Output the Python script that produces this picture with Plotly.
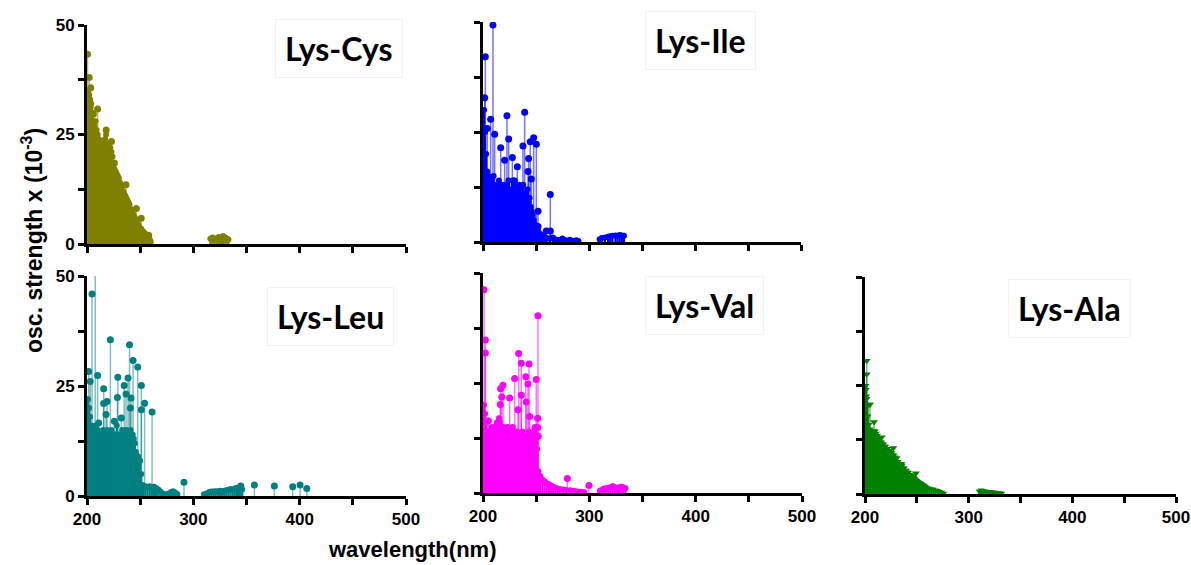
import plotly.graph_objects as go

# ---------------- data (wavelength in nm, oscillator strength x 1e-3) ----------------
# Lys-Cys
cys_body_wl = [201, 202, 203, 204, 205, 206, 207, 208, 209, 210, 211, 212, 213, 214, 215, 216, 217, 218, 219, 220,
               221, 222, 223, 224, 225, 226, 227, 228, 229, 230, 231, 232, 233, 234, 235, 236, 237, 238, 239, 240,
               241, 242, 243, 244, 245, 246, 247, 248, 249, 250, 251, 252, 253, 254, 255, 256, 257, 258, 259, 260,
               316, 318, 320, 322, 324, 326, 328, 330, 332, 333]
cys_body_f = [35, 34, 33, 32, 30, 28, 27, 28, 26, 25, 24, 23, 22, 22, 21, 23, 24, 25, 23, 22,
              21, 22, 21, 20, 18, 17, 16.5, 16, 15.5, 15, 14, 13.5, 13, 12, 11.5, 11, 10.5, 10, 9.5, 9,
              8, 7.5, 7, 6.5, 6, 5.5, 5, 4.5, 4, 3.5, 3.5, 3, 2.8, 2.5, 2.3, 2, 1.8, 1.5, 1.0, 0.5,
              1.2, 1.5, 1.0, 1.3, 1.6, 1.2, 1.8, 1.5, 1.2, 1.0]
cys_peak_wl = [200.5, 202, 203.5, 203, 206, 210, 214, 218, 223, 225.7, 236.7, 246.4, 251, 258]
cys_peak_f = [43.3, 38, 35.7, 31.3, 29.6, 30.8, 23.4, 26, 23.4, 18.5, 13.5, 8.1, 5.9, 2.0]

# Lys-Ile
ile_body_wl = [201, 202, 203, 204, 205, 206, 207, 208, 209, 210, 211, 212, 213, 214, 215, 216, 217, 218, 219, 220,
               221, 222, 223, 224, 225, 226, 227, 228, 229, 230, 231, 232, 233, 234, 235, 236, 237, 238, 239, 240,
               241, 242, 243, 244, 245, 246, 247, 248, 249, 250, 251, 252, 253, 254, 255, 256, 257, 258,
               260, 263, 266, 268, 272, 275, 278, 282, 285, 288, 290,
               310, 312, 315, 318, 320, 322, 325, 327, 329, 331, 333]
ile_body_f = [30, 25, 20, 16, 15, 14, 12, 14, 13, 15, 12, 11, 13, 12, 14, 11, 13, 12, 10, 13,
              12, 11, 13, 14, 12, 10, 12, 11, 13, 14, 12, 11, 12, 13, 10, 12, 11, 13, 11, 10,
              11, 12, 9, 10, 8, 7, 6, 5, 4, 3.5, 3, 2.5, 2, 1.8, 1.5, 1.3, 1.2, 1.0,
              0.9, 0.8, 1.0, 0.6, 0.5, 0.8, 0.4, 0.5, 0.3, 0.4, 0.2,
              0.6, 0.9, 1.0, 1.2, 1.3, 1.4, 1.5, 1.4, 1.6, 1.5, 1.4]
ile_peak_wl = [201.6, 202.2, 204, 207.2, 209.4, 211, 216.7, 220.4, 222.6, 224.2, 227.7, 228.6, 232.4, 237.7,
               239.3, 242.5, 243, 244.6, 245.6, 247.8, 250.3, 251.9, 251.9, 259.7, 263.5, 263.5]
ile_peak_f = [32.8, 42.1, 25.8, 27.9, 49.3, 24.5, 21.4, 18.6, 28.7, 23.4, 19.2, 13.9, 17.1, 21.8,
              29.5, 16, 19, 22.8, 14.3, 23.7, 22.2, 7, 3.5, 2.5, 10.8, 2.5]

# Lys-Leu
leu_body_wl = [201, 202, 203, 204, 205, 206, 207, 208, 209, 210, 211, 212, 213, 214, 215, 216, 217, 218, 219, 220,
               221, 222, 223, 224, 225, 226, 227, 228, 229, 230, 231, 232, 233, 234, 235, 236, 237, 238, 239, 240,
               241, 242, 243, 244, 245, 246, 247, 248, 249, 250, 251, 252,
               253, 255, 257, 259, 261, 263, 265, 267, 269, 271, 273, 276, 279, 281, 283, 285,
               310, 313, 315, 317, 319, 321, 323, 325, 327, 329, 331, 333, 335, 337, 339, 341, 343, 345, 346]
leu_body_f = [22, 20, 18, 16, 15, 15, 13, 16, 14, 15, 13, 12, 14, 13, 15, 12, 14, 13, 15, 12,
              14, 13, 15, 12, 14, 13, 14, 16, 14, 12, 14, 13, 15, 12, 14, 13, 15, 12, 14, 13,
              15, 12, 14, 13, 12, 10, 9, 9, 8, 8, 5, 2.5,
              2.3, 2.2, 2.0, 2.2, 2.0, 2.1, 1.8, 1.5, 1.0, 0.6, 0.4, 0.5, 0.9, 1.1, 0.8, 0.4,
              0.4, 0.6, 0.9, 1.0, 1.0, 1.1, 1.0, 1.2, 1.1, 1.2, 1.3, 1.4, 1.6, 1.5, 1.7, 1.9, 1.8, 2.0, 1.5]
leu_peak_wl = [201.6, 203, 204.7, 207.8, 210, 211, 215.7, 215.7, 217.9, 218.8, 222, 225.7, 228.6, 229, 232.3,
               235, 236.7, 238.6, 240, 240.8, 241.4, 243.3, 247.7, 251.1, 251.1, 254.2, 261.2, 291.2,
               344.6, 357.4, 376.2, 393.5, 400.4, 406.7]
leu_peak_f = [28.3, 26, 45.9, 56, 27.4, 16.6, 24.4, 21, 18.5, 21.5, 35.5, 17, 22.4, 27, 17.7,
              25.1, 23.2, 26.8, 34.4, 20, 22.3, 30.8, 29.3, 25.1, 19.6, 21.1, 19.1, 3.1,
              2.3, 2.5, 2.3, 2.1, 2.5, 1.7]

# Lys-Val
val_body_wl = [201, 202, 203, 204, 205, 206, 207, 208, 209, 210, 211, 212, 213, 214, 215, 216, 217, 218, 219, 220,
               221, 222, 223, 224, 225, 226, 227, 228, 229, 230, 231, 232, 233, 234, 235, 236, 237, 238, 239, 240,
               241, 242, 243, 244, 245, 246, 247, 248, 249, 250, 251, 252, 253,
               254, 256, 258, 260, 262, 264, 266, 268, 270, 272, 275, 278, 282, 285, 288, 292, 295,
               310, 312, 314, 316, 318, 320, 322, 324, 326, 328, 330, 332, 334]
val_body_f = [20, 18, 16, 14, 14, 12, 13, 15, 12, 14, 15, 13, 16, 14, 17, 16, 15, 13, 15, 14,
              12, 14, 15, 13, 12, 14, 12, 15, 13, 14, 12, 14, 13, 11, 13, 12, 14, 11, 13, 12,
              13, 11, 14, 12, 13, 11, 12, 14, 12, 13, 10, 5, 4,
              3.8, 3.0, 2.6, 2.2, 2.0, 1.7, 1.4, 1.2, 1.0, 0.9, 0.8, 0.7, 0.6, 0.5, 0.4, 0.3, 0.2,
              0.5, 0.8, 1.0, 1.1, 1.2, 1.3, 1.6, 1.3, 1.2, 1.3, 1.4, 1.3, 1.1]
val_peak_wl = [201, 202.2, 202.2, 205, 216.3, 216.6, 217.7, 218.8, 225.1, 229.8, 232.9, 233.6, 236, 236,
               240.2, 240.7, 242.3, 243.3, 243.9, 248.9, 250.1, 251.4, 251.4, 251.7, 252, 279.3, 299.7]
val_peak_f = [46.2, 34.8, 31.8, 16.4, 20.1, 23.7, 21.8, 24.5, 21.6, 26, 18.9, 31.7, 29.5, 22.2,
              26.4, 20.7, 24.8, 29.3, 17.4, 14.9, 25.8, 17, 14.9, 40.3, 12.9, 3.3, 1.7]

# Lys-Ala
ala_body_wl = [201, 202, 203, 204, 205, 206, 207, 208, 209, 210, 211, 212, 213, 214, 215, 216, 217, 218, 219, 220,
               221, 222, 223, 224, 225, 226, 227, 228, 229, 230, 231, 232, 233, 234, 235, 236, 237, 238, 239, 240,
               241, 242, 243, 244, 245, 246, 247, 248, 249, 250, 251, 252, 253, 254, 255, 256, 257, 258, 259, 260,
               262, 264, 266, 268, 270, 272, 274, 276,
               310, 312, 314, 316, 318, 320, 322, 324, 326, 328, 330, 332]
ala_body_f = [25, 22, 18, 16, 15, 14.5, 14.5, 14.5, 14.5, 14.5, 14, 13.5, 13, 12.5, 12, 12, 11.5, 11.5, 11, 11,
              10.5, 10.5, 10, 10, 9.5, 9.5, 9, 9, 8.5, 8, 7.5, 7.5, 7, 7, 6.5, 6.5, 6, 6, 5.5, 5.5,
              5, 5, 4.5, 4.3, 4.2, 4, 3.8, 3.5, 3.3, 3.1, 2.9, 2.7, 2.6, 2.4, 2.3, 2.1, 2.0, 1.8, 1.6, 1.4,
              1.3, 1.2, 1.1, 0.9, 0.8, 0.6, 0.4, 0.2,
              0.7, 0.9, 0.8, 0.7, 0.6, 0.6, 0.5, 0.4, 0.4, 0.3, 0.3, 0.2]
ala_peak_wl = [200.8, 201, 201.6, 201.6, 203.2, 204.8, 208.7, 216.1, 227.3, 230.5, 235.3, 249]
ala_peak_f = [24, 22.5, 30.7, 27.6, 20.6, 20.6, 16.6, 13.1, 10.6, 8.3, 6.9, 4.8]

panel_names = ["Lys-Cys", "Lys-Ile", "Lys-Leu", "Lys-Val", "Lys-Ala"]
panel_colors = ["#808000", "#0000FF", "#008080", "#FF00FF", "#008000"]
panel_stem_colors = ["rgba(128,128,0,0.55)", "rgba(0,0,255,0.55)", "rgba(0,128,128,0.5)",
                     "rgba(255,0,255,0.55)", "rgba(0,128,0,0.55)"]
panel_symbols = ["circle", "circle", "circle", "circle", "triangle-down"]

x_major_ticks = [200, 300, 400, 500]
x_minor_ticks = [250, 350, 450]
y_major_ticks = [0, 25, 50]
y_minor_ticks = [12.5, 37.5]

series = [
    (cys_body_wl, cys_body_f, cys_peak_wl, cys_peak_f),
    (ile_body_wl, ile_body_f, ile_peak_wl, ile_peak_f),
    (leu_body_wl, leu_body_f, leu_peak_wl, leu_peak_f),
    (val_body_wl, val_body_f, val_peak_wl, val_peak_f),
    (ala_body_wl, ala_body_f, ala_peak_wl, ala_peak_f),
]
for bw, bf, pw, pf in series:
    assert len(bw) == len(bf) and len(pw) == len(pf)

# ---------------- layout geometry (pixels in a 1191 x 565 canvas) ----------------
W, H = 1191, 565
# (left, right, top, bottom) of each plot area in px
boxes = [(87, 406, 25, 244), (483, 801, 22, 242), (87, 406, 276, 496),
         (483, 802, 273, 493), (865, 1176, 277, 494)]
show_x_labels = [False, False, True, True, True]
show_y_labels = [True, False, True, False, False]
label_pos = [(339, 48), (700, 41), (330, 316), (704, 305), (1069, 308)]

fig = go.Figure()
tick_font = dict(family="Liberation Sans, Arial", size=17, color="black", weight="bold")
minor_style = dict(ticks="outside", ticklen=6, tickwidth=2.5, tickcolor="black", showgrid=False)

for i, (bw, bf, pw, pf) in enumerate(series):
    xa = "x" if i == 0 else f"x{i+1}"
    ya = "y" if i == 0 else f"y{i+1}"
    col = panel_colors[i]
    # dense body of transitions
    fig.add_trace(go.Scatter(
        x=bw, y=bf, mode="markers", xaxis=xa, yaxis=ya,
        marker=dict(color=col, size=6, symbol=panel_symbols[i], line=dict(width=0)),
        error_y=dict(type="data", symmetric=False, array=[0] * len(bf), arrayminus=bf,
                     color=col, thickness=2.2, width=0),
        hoverinfo="x+y"))
    # distinct strong transitions
    fig.add_trace(go.Scatter(
        x=pw, y=pf, mode="markers", xaxis=xa, yaxis=ya,
        marker=dict(color=col, size=7, symbol=panel_symbols[i], line=dict(width=0)),
        error_y=dict(type="data", symmetric=False, array=[0] * len(pf), arrayminus=pf,
                     color=panel_stem_colors[i], thickness=1.5, width=0),
        hoverinfo="x+y"))

    l, r, t, b = boxes[i]
    xkey = "xaxis" if i == 0 else f"xaxis{i+1}"
    ykey = "yaxis" if i == 0 else f"yaxis{i+1}"
    fig.update_layout(**{
        xkey: dict(domain=[l / W, r / W], anchor=ya, range=[200, 500], showgrid=False, zeroline=False,
                   automargin=False,
                   showline=True, linecolor="black", linewidth=3, ticks="outside", ticklen=6,
                   tickwidth=2.5, tickcolor="black", tickmode="array", tickvals=x_major_ticks,
                   minor=dict(tickmode="array", tickvals=x_minor_ticks, **minor_style),
                   showticklabels=show_x_labels[i], tickfont=tick_font),
        ykey: dict(domain=[1 - b / H, 1 - t / H], anchor=xa, range=[0, 50], showgrid=False, zeroline=False,
                   automargin=False,
                   showline=True, linecolor="black", linewidth=3, ticks="outside", ticklen=6,
                   tickwidth=2.5, tickcolor="black", tickmode="array", tickvals=y_major_ticks,
                   minor=dict(tickmode="array", tickvals=y_minor_ticks, **minor_style),
                   showticklabels=show_y_labels[i], tickfont=tick_font),
    })
    cx, cy = label_pos[i]
    fig.add_annotation(x=cx / W, y=1 - cy / H, xref="paper", yref="paper", text=panel_names[i],
                       showarrow=False, xanchor="center", yanchor="middle",
                       font=dict(family="Lato, Open Sans, sans-serif", size=32, color="black", weight="bold"),
                       bordercolor="#f3f3f3", borderwidth=1, borderpad=9)

# axis titles
fig.add_annotation(x=32 / W, y=1 - 241 / H, xref="paper", yref="paper",
                   text="osc. strength x (10<sup>-3</sup>)", textangle=-90, showarrow=False,
                   xanchor="center", yanchor="middle",
                   font=dict(family="Liberation Sans, Arial", size=23, color="black", weight="bold"))
fig.add_annotation(x=326 / W, y=1 - 549 / H, xref="paper", yref="paper",
                   text="wavelength(nm)", showarrow=False, xanchor="left", yanchor="middle",
                   font=dict(family="Liberation Sans, Arial", size=22, color="black", weight="bold"))

fig.update_layout(width=W, height=H, margin=dict(l=0, r=0, t=0, b=0),
                  paper_bgcolor="white", plot_bgcolor="white", showlegend=False)

fig.write_html("out.html")
